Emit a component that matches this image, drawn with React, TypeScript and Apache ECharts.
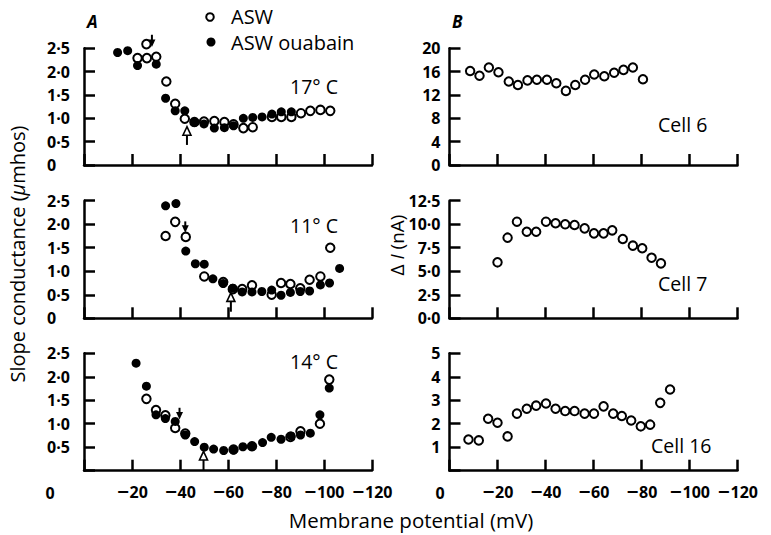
import React, { useEffect, useRef } from 'react';
import * as echarts from 'echarts';

// ---------- data ----------
const xTicks = [0, -20, -40, -60, -80, -100, -120];

const a17Asw: [number, number][] = [
  [-22.3, 2.29], [-26.2, 2.29], [-26, 2.59], [-30.1, 2.32], [-34.3, 1.79], [-38, 1.31], [-42, 0.99],
  [-46, 0.92], [-50, 0.93], [-54.3, 0.94], [-58.5, 0.92], [-62.3, 0.87], [-66.4, 0.79], [-70.3, 0.81],
  [-78.3, 1.03], [-82.2, 1.03], [-86.4, 1.03], [-90.4, 1.11], [-94.3, 1.16], [-98.5, 1.18], [-102.6, 1.16],
];
const a17Oua: [number, number][] = [
  [-14, 2.41], [-18.2, 2.45], [-22.3, 2.13], [-30.1, 2.16], [-34, 1.43], [-38, 1.16], [-42, 1.16],
  [-46, 0.91], [-50, 0.88], [-54.3, 0.79], [-58.5, 0.8], [-62.3, 0.84], [-66.4, 1.0], [-70.3, 1.02],
  [-74.2, 1.03], [-78.3, 1.09], [-82.2, 1.14], [-86.4, 1.14],
];
const a11Asw: [number, number][] = [
  [-34, 1.75], [-38, 2.05], [-42.4, 1.73], [-50.1, 0.89], [-58, 0.77], [-62, 0.62], [-65.9, 0.62],
  [-70, 0.7], [-78.2, 0.5], [-82.1, 0.75], [-86, 0.73], [-90.1, 0.64], [-94, 0.82], [-98.5, 0.89], [-102.6, 1.5],
];
const a11Oua: [number, number][] = [
  [-34, 2.39], [-38.3, 2.44], [-42.4, 1.43], [-46.4, 1.16], [-50.1, 1.15], [-53.7, 0.84], [-58, 0.74],
  [-62, 0.64], [-65.9, 0.56], [-70, 0.56], [-74.1, 0.57], [-78.2, 0.6], [-82.1, 0.49], [-86, 0.55],
  [-90.1, 0.57], [-94, 0.58], [-98.5, 0.71], [-102.3, 0.75], [-106.5, 1.06],
];
const a14Asw: [number, number][] = [
  [-26, 1.53], [-30, 1.29], [-33.9, 1.18], [-38, 0.91], [-42.2, 0.79], [-62.3, 0.45], [-70, 0.52],
  [-86, 0.72], [-90.2, 0.84], [-98.3, 1.0], [-102.2, 1.94],
];
const a14Oua: [number, number][] = [
  [-21.7, 2.29], [-26, 1.8], [-30, 1.19], [-33.9, 1.11], [-38, 1.05], [-42.2, 0.76], [-46.1, 0.62],
  [-50.1, 0.5], [-54, 0.46], [-58.2, 0.43], [-62.3, 0.44], [-66.2, 0.51], [-70, 0.52], [-74.4, 0.6],
  [-78, 0.71], [-82.1, 0.67], [-86.3, 0.74], [-90.2, 0.76], [-94.3, 0.8], [-98.3, 1.19], [-102.2, 1.76],
];
const cell6: [number, number][] = [
  [-8.6, 16.1], [-12.5, 15.3], [-16.4, 16.7], [-20.4, 15.9], [-24.7, 14.3], [-28.5, 13.7], [-32.5, 14.5],
  [-36.4, 14.6], [-40.6, 14.6], [-44.5, 14.0], [-48.5, 12.7], [-52.4, 13.7], [-56.5, 14.6], [-60.3, 15.5],
  [-64.5, 15.2], [-68.6, 15.8], [-72.5, 16.3], [-76.4, 16.7], [-80.6, 14.7],
];
const cell7: [number, number][] = [
  [-20, 5.95], [-24.2, 8.57], [-28.1, 10.27], [-32.2, 9.2], [-36.1, 9.2], [-40.2, 10.27], [-44.2, 10.1],
  [-48.2, 9.99], [-52.1, 9.92], [-56.3, 9.56], [-60.2, 9.03], [-64.2, 9.03], [-67.8, 9.35], [-72.2, 8.43],
  [-76.4, 7.72], [-80.3, 7.44], [-84.2, 6.44], [-88.1, 5.84],
];
const cell16: [number, number][] = [
  [-7.9, 1.33], [-12.2, 1.29], [-16.1, 2.21], [-20, 2.04], [-24.2, 1.46], [-28.1, 2.43], [-32.2, 2.64],
  [-36.1, 2.77], [-40.2, 2.86], [-44.2, 2.64], [-48.2, 2.54], [-52.1, 2.54], [-56.3, 2.43], [-60.2, 2.43],
  [-64.2, 2.74], [-68.2, 2.43], [-71.8, 2.33], [-75.7, 2.14], [-79.7, 1.89], [-83.6, 1.96], [-87.8, 2.89],
  [-91.9, 3.46],
];
// arrows: [gridIndex, mV, from value, to value]
const arrowsFilledDown: [number, number, number, number][] = [
  [0, -28.3, 2.79, 2.53], [1, -42.2, 2.06, 1.82], [2, -39.8, 1.34, 1.09],
];
const arrowsOpenUp: [number, number, number, number][] = [
  [0, -42.9, 0.43, 0.82], [1, -61.2, 0.14, 0.54], [2, -49.8, 0.0, 0.41],
];
const tempLabels = ['17° C', '11° C', '14° C'];
const cellLabels = ['Cell 6', 'Cell 7', 'Cell 16'];

// ---------- layout ----------
const FONT = '"Open Sans", Lato, sans-serif';
const tops = [48.3, 200.7, 353.3];
const heights = [116.7, 117.6, 117.4];
const lefts = [84, 449.5];
const W = 288;

const dot = (s: string) => s.replace('.', '·');

export default function App() {
  const ref = useRef<HTMLDivElement>(null);
  useEffect(() => {
    const chart = echarts.init(ref.current!, null, { renderer: 'svg' });
    const grids: any[] = [];
    const xAxes: any[] = [];
    const yAxes: any[] = [];
    const series: any[] = [];
    const axisLine = { lineStyle: { color: '#000', width: 2.5 } };
    const axisTick = { inside: true, length: 11, lineStyle: { color: '#000', width: 2.5 } };
    const labelStyle = { color: '#000', fontFamily: FONT, fontWeight: 'bold', fontSize: 16 };
    const yCfg = [
      { min: 0, max: 2.5, interval: 0.5, fmt: (v: number) => (v === 0 ? '0' : dot(v.toFixed(1))) },
      { min: 0, max: 2.5, interval: 0.5, fmt: (v: number) => (v === 0 ? '0' : dot(v.toFixed(1))) },
      { min: 0, max: 2.5, interval: 0.5, fmt: (v: number) => (v === 0 ? '' : dot(v.toFixed(1))) },
      { min: 0, max: 20, interval: 4, fmt: (v: number) => String(v) },
      { min: 0, max: 12.5, interval: 2.5, fmt: (v: number) => dot(v.toFixed(1)) },
      { min: 0, max: 5, interval: 1, fmt: (v: number) => (v === 0 ? '' : String(v)) },
    ];
    const leftData = [[a17Asw, a17Oua], [a11Asw, a11Oua], [a14Asw, a14Oua]];
    const rightData = [cell6, cell7, cell16];
    for (let c = 0; c < 2; c++) {
      for (let r = 0; r < 3; r++) {
        const i = c * 3 + r;
        grids.push({ left: lefts[c], top: tops[r], width: W, height: heights[r], containLabel: false });
        xAxes.push({
          type: 'value', gridIndex: i, min: -120, max: 0, interval: 20, inverse: true,
          axisLine, axisTick, splitLine: { show: false },
          axisLabel: {
            show: r === 2, margin: 13, ...labelStyle,
            formatter: (v: number) => (v === 0 ? '' : '{m|−}{d|' + Math.abs(v) + '}'),
            rich: {
              m: { fontFamily: '"DejaVu Sans"', fontSize: 16, fontWeight: 'bold', color: '#000' },
              d: { fontFamily: FONT, fontSize: 16, fontWeight: 'bold', color: '#000' },
            },
          },
        });
        const yc = yCfg[i];
        yAxes.push({
          type: 'value', gridIndex: i, min: yc.min, max: yc.max, interval: yc.interval,
          axisLine: { show: true, ...axisLine }, axisTick, splitLine: { show: false },
          axisLabel: c === 0
            ? { ...labelStyle, align: 'left', margin: 37, formatter: yc.fmt }
            : { ...labelStyle, margin: 9, formatter: yc.fmt },
        });
        const open = (name: string, data: any) => ({
          type: 'scatter', name, xAxisIndex: i, yAxisIndex: i, data, clip: false,
          symbol: 'circle', symbolSize: 8.5,
          itemStyle: { color: '#fff', borderColor: '#000', borderWidth: 2, opacity: 1 },
        });
        if (c === 0) {
          series.push(open('ASW', leftData[r][0]));
          series.push({
            type: 'scatter', name: 'ASW ouabain', xAxisIndex: i, yAxisIndex: i, data: leftData[r][1],
            clip: false, symbol: 'circle', symbolSize: 9, itemStyle: { color: '#000', opacity: 1 },
          });
        } else {
          series.push(open('ASW', rightData[r]));
        }
      }
    }
    chart.setOption({
      animation: false,
      backgroundColor: '#fff',
      grid: grids, xAxis: xAxes, yAxis: yAxes, series,
    });

    const txt = (text: string, x: number, y: number, extra: any = {}) => ({
      type: 'text', x, y, silent: true,
      style: { text, fill: '#000', fontFamily: FONT, fontSize: 19, align: 'left', verticalAlign: 'middle', ...extra },
    });
    const els: any[] = [];
    // panel letters
    els.push(txt('A', 87, 21, { fontStyle: 'italic', fontWeight: 'bold', fontSize: 17 }));
    els.push(txt('B', 452, 21, { fontStyle: 'italic', fontWeight: 'bold', fontSize: 17 }));
    // legend
    els.push({ type: 'circle', shape: { cx: 210, cy: 17, r: 3.8 }, style: { fill: '#fff', stroke: '#000', lineWidth: 2 } });
    els.push({ type: 'circle', shape: { cx: 211, cy: 42, r: 4.5 }, style: { fill: '#000' } });
    els.push(txt('ASW', 231, 16, { fontSize: 20 }));
    els.push(txt('ASW ouabain', 231, 42, { fontSize: 20 }));
    // annotations
    const tempY = [86, 225, 361];
    tempLabels.forEach((t, k) => els.push(txt(t, 290, tempY[k], { fontSize: 19.5 })));
    const cellY = [124, 283, 445];
    const cellX = [658, 658, 651];
    cellLabels.forEach((t, k) => els.push(txt(t, cellX[k], cellY[k], { fontSize: 19.5 })));
    // shared "0" x-labels
    els.push(txt('0', 50, 493, { align: 'center', fontWeight: 'bold', fontSize: 16 }));
    els.push(txt('0', 440, 493, { align: 'center', fontWeight: 'bold', fontSize: 16 }));
    // axis titles
    els.push(txt('Membrane potential (mV)', 411, 520, { align: 'center', fontSize: 20.5 }));
    els.push({
      type: 'text', x: 17, y: 254, rotation: Math.PI / 2, silent: true,
      style: {
        text: '{n|Slope conductance (}{i|μ}{n|mhos)}', align: 'center', verticalAlign: 'middle',
        fill: '#000', fontFamily: FONT, fontSize: 20,
        rich: { n: { fontFamily: FONT, fontSize: 20 }, i: { fontFamily: FONT, fontSize: 20, fontStyle: 'italic' } },
      },
    });
    els.push({
      type: 'text', x: 397, y: 245, rotation: Math.PI / 2, silent: true,
      style: {
        text: '{n|Δ }{i|I}{n| (nA)}', align: 'center', verticalAlign: 'middle',
        fill: '#000', fontFamily: FONT, fontSize: 19,
        rich: { n: { fontFamily: FONT, fontSize: 19 }, i: { fontFamily: FONT, fontSize: 19, fontStyle: 'italic' } },
      },
    });
    // arrows
    arrowsFilledDown.forEach(([g, x, from, to]) => {
      const p1 = chart.convertToPixel({ gridIndex: g }, [x, from]) as number[];
      const p2 = chart.convertToPixel({ gridIndex: g }, [x, to]) as number[];
      els.push({ type: 'line', shape: { x1: p1[0], y1: p1[1], x2: p2[0], y2: p2[1] - 4 }, style: { stroke: '#000', lineWidth: 2 } });
      els.push({ type: 'polygon', shape: { points: [[p2[0], p2[1]], [p2[0] - 3.5, p2[1] - 7.5], [p2[0] + 3.5, p2[1] - 7.5]] }, style: { fill: '#000' } });
    });
    arrowsOpenUp.forEach(([g, x, from, to]) => {
      const p1 = chart.convertToPixel({ gridIndex: g }, [x, from]) as number[];
      const p2 = chart.convertToPixel({ gridIndex: g }, [x, to]) as number[];
      els.push({ type: 'line', shape: { x1: p1[0], y1: p1[1], x2: p2[0], y2: p2[1] + 8 }, style: { stroke: '#000', lineWidth: 2 } });
      els.push({ type: 'polygon', shape: { points: [[p2[0], p2[1]], [p2[0] - 4, p2[1] + 8.5], [p2[0] + 4, p2[1] + 8.5]] }, style: { fill: '#fff', stroke: '#000', lineWidth: 1.6 } });
    });
    chart.setOption({ graphic: { elements: els } });
    return () => chart.dispose();
  }, []);
  return <div ref={ref} style={{ position: 'fixed', left: 0, top: 0, width: 771, height: 535, background: '#fff' }} />;
}
